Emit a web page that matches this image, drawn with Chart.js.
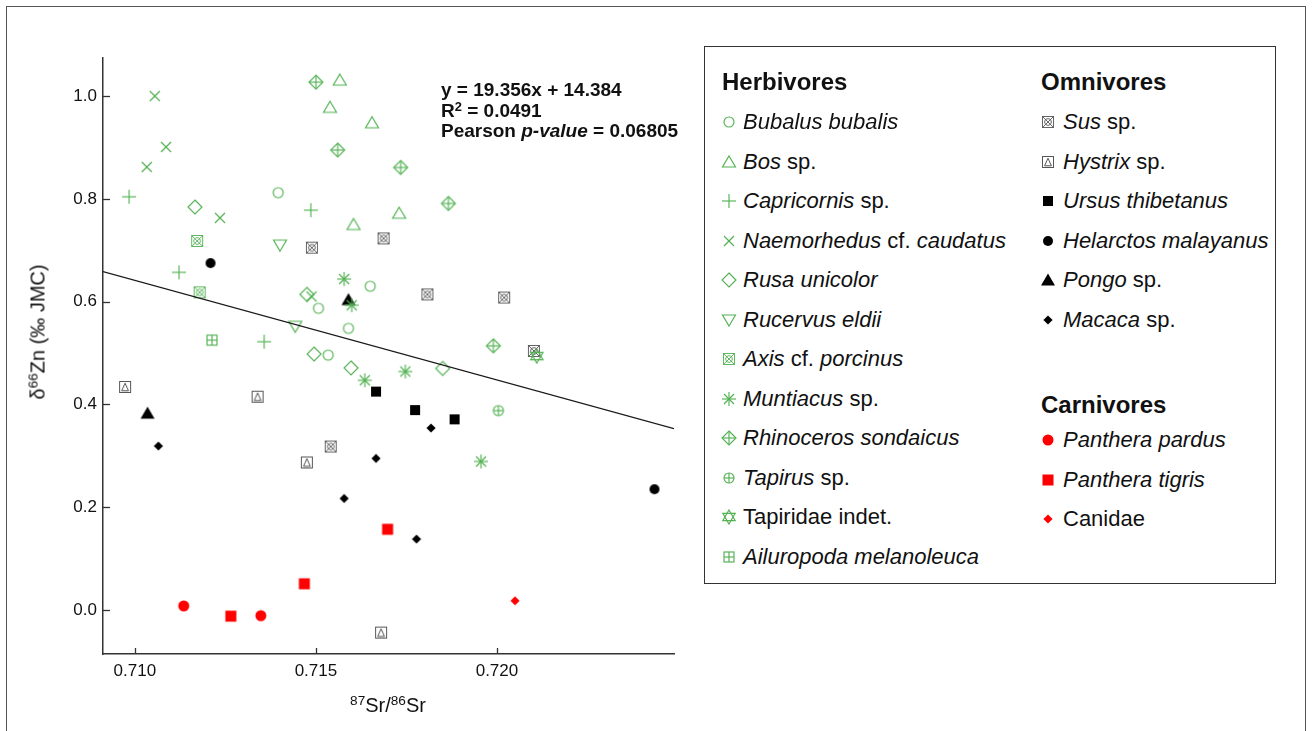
<!DOCTYPE html>
<html>
<head>
<meta charset="utf-8">
<script src="https://cdn.jsdelivr.net/npm/chart.js@4.4.1/dist/chart.umd.min.js"></script>
<style>
  html, body { margin: 0; padding: 0; background: #fff; }
  body { width: 1312px; height: 731px; position: relative; overflow: hidden;
         font-family: "Liberation Sans", Arial, Helvetica, sans-serif; color: #111; }
  #frame { position: absolute; left: 6px; top: 6px; width: 1300px; height: 760px;
           border: 1px solid #555; box-sizing: border-box; }
  #plot { position: absolute; left: 0; top: 0; }
  .ytitle { position: absolute; left: 38px; top: 332px; transform: translate(-50%, -50%) rotate(-90deg);
            font-size: 20px; white-space: nowrap; }
  .xtitle { position: absolute; left: 388px; top: 705px; transform: translate(-50%, -50%);
            font-size: 20px; white-space: nowrap; }
  sup { font-size: 0.68em; vertical-align: 0.5em; line-height: 0; }
  .eq { position: absolute; left: 441px; font-size: 19px; font-weight: bold; white-space: nowrap; line-height: 20px; }
  #legend { position: absolute; left: 704px; top: 46px; width: 572px; height: 538px;
            border: 1px solid #333; box-sizing: border-box; }
  .lh { position: absolute; font-size: 24px; font-weight: bold; line-height: 24px; white-space: nowrap; }
  .li { position: absolute; font-size: 22px; line-height: 24px; white-space: nowrap; height: 24px; }
  .li canvas { position: absolute; top: 3px; }
  .li span.t { position: absolute; top: 0; }
  i { font-style: italic; }
</style>
</head>
<body>
<div id="frame"></div>
<canvas id="plot" width="700" height="731"></canvas>
<div class="ytitle">δ<sup>66</sup>Zn (‰ JMC)</div>
<div class="xtitle"><sup>87</sup>Sr/<sup>86</sup>Sr</div>
<div class="eq" style="top:80px">y = 19.356x + 14.384</div>
<div class="eq" style="top:101px">R<sup>2</sup> = 0.0491</div>
<div class="eq" style="top:121px">Pearson <i>p-value</i> = 0.06805</div>
<div id="legend"></div>

<script>
// ---- measured values: 87Sr/86Sr (x) and δ66Zn ‰ JMC (y) ----
const bubalusX = [0.71396, 0.71650, 0.71507, 0.71590, 0.71534];
const bubalusY = [0.812, 0.630, 0.587, 0.548, 0.496];
const bosX = [0.71566, 0.71539, 0.71655, 0.71730, 0.71604];
const bosY = [1.031, 0.978, 0.948, 0.772, 0.750];
const capricornisX = [0.70984, 0.71486, 0.71122, 0.71357];
const capricornisY = [0.804, 0.778, 0.657, 0.522];
const naemorhedusX = [0.71055, 0.71086, 0.71033, 0.71235, 0.71488];
const naemorhedusY = [1.000, 0.901, 0.862, 0.763, 0.610];
const rusaX = [0.71166, 0.71475, 0.71495, 0.71597, 0.71850];
const rusaY = [0.784, 0.614, 0.498, 0.471, 0.470];
const rucervusX = [0.71401, 0.71443];
const rucervusY = [0.710, 0.552];
const axisX = [0.71172, 0.71179];
const axisY = [0.718, 0.618];
const muntiacusX = [0.71578, 0.71599, 0.71635, 0.71747, 0.71956];
const muntiacusY = [0.644, 0.593, 0.447, 0.464, 0.289];
const rhinoX = [0.71500, 0.71560, 0.71734, 0.71866, 0.71990];
const rhinoY = [1.027, 0.895, 0.861, 0.791, 0.514];
const tapirusX = [0.72004];
const tapirusY = [0.388];
const tapiridaeX = [0.72110];
const tapiridaeY = [0.494];
const ailuropodaX = [0.71213];
const ailuropodaY = [0.525];

const susX = [0.71489, 0.71687, 0.71808, 0.72020, 0.72102, 0.71541];
const susY = [0.705, 0.723, 0.614, 0.608, 0.504, 0.318];
const hystrixX = [0.70973, 0.71339, 0.71475, 0.71680];
const hystrixY = [0.434, 0.415, 0.287, -0.044];
const ursusX = [0.71666, 0.71774, 0.71883];
const ursusY = [0.425, 0.389, 0.371];
const helarctosX = [0.71209, 0.72435];
const helarctosY = [0.675, 0.235];
const pongoX = [0.71035, 0.71590];
const pongoY = [0.383, 0.604];
const macacaX = [0.71065, 0.71666, 0.71578, 0.71778, 0.71818];
const macacaY = [0.319, 0.295, 0.217, 0.138, 0.354];

const pardusX = [0.71135, 0.71348];
const pardusY = [0.008, -0.011];
const tigrisX = [0.71265, 0.71468, 0.71698];
const tigrisY = [-0.012, 0.051, 0.157];
const canidaeX = [0.72050];
const canidaeY = [0.018];

// axis ranges and ticks
const xMin = 0.70912, xMax = 0.72489, xStep = 0.005;
const yMin = -0.0856, yMax = 1.074, yStep = 0.2;

// fitted line (descending fit through all samples)
const regSlope = -19.356, regIntercept = 14.384;

const GREEN = '#52b152', GREY = '#555555', BLACK = '#000000', RED = '#ff0000';

// ---- marker glyphs drawn onto small canvases ----
function glyph(kind, color) {
  const S = 18, c = document.createElement('canvas');
  c.width = S; c.height = S;
  const g = c.getContext('2d');
  g.translate(S / 2, S / 2);
  g.strokeStyle = color; g.fillStyle = color; g.lineWidth = 1.15;
  const line = (a, b, cc, d) => { g.beginPath(); g.moveTo(a, b); g.lineTo(cc, d); g.stroke(); };
  const poly = (pts, fill) => {
    g.beginPath(); g.moveTo(pts[0][0], pts[0][1]);
    for (let i = 1; i < pts.length; i++) g.lineTo(pts[i][0], pts[i][1]);
    g.closePath(); fill ? g.fill() : g.stroke();
  };
  switch (kind) {
    case 'circle': g.beginPath(); g.arc(0, 0, 5, 0, Math.PI * 2); g.stroke(); break;
    case 'tri': poly([[0, -6], [6.5, 5], [-6.5, 5]]); break;
    case 'plus': line(-7, 0, 7, 0); line(0, -7, 0, 7); break;
    case 'cross': line(-5, -5, 5, 5); line(5, -5, -5, 5); break;
    case 'diamond': poly([[0, -7], [7, 0], [0, 7], [-7, 0]]); break;
    case 'triDown': poly([[0, 6], [6.5, -5], [-6.5, -5]]); break;
    case 'boxX':
      g.lineWidth = 0.9;
      g.strokeRect(-5.5, -5.5, 11, 11); line(-5.5, -5.5, 5.5, 5.5); line(5.5, -5.5, -5.5, 5.5);
      g.beginPath(); g.arc(0, 0, 3.4, 0, Math.PI * 2); g.stroke(); break;
    case 'aster':
      line(-7, 0, 7, 0); line(0, -7, 0, 7); line(-5, -5, 5, 5); line(5, -5, -5, 5);
      g.beginPath(); g.arc(0, 0, 1.3, 0, Math.PI * 2); g.fill(); break;
    case 'diamondPlus': poly([[0, -7], [7, 0], [0, 7], [-7, 0]]); line(-7, 0, 7, 0); line(0, -7, 0, 7); break;
    case 'circlePlus':
      g.beginPath(); g.arc(0, 0, 5, 0, Math.PI * 2); g.stroke(); line(-5, 0, 5, 0); line(0, -5, 0, 5); break;
    case 'star6': poly([[0, -7], [6.2, 3.6], [-6.2, 3.6]]); poly([[0, 7], [6.2, -3.6], [-6.2, -3.6]]); break;
    case 'boxPlus': g.strokeRect(-5, -5, 10, 10); line(-5, 0, 5, 0); line(0, -5, 0, 5); break;
    case 'boxTri': g.lineWidth = 1; g.strokeRect(-5.5, -5.5, 11, 11); poly([[0, -3.8], [3.4, 3.8], [-3.4, 3.8]]); break;
    case 'sq': g.fillRect(-5, -5, 10, 10); break;
    case 'dot': g.beginPath(); g.arc(0, 0, 5, 0, Math.PI * 2); g.fill(); break;
    case 'triFill': poly([[0, -6.5], [7, 5.5], [-7, 5.5]], true); break;
    case 'diaFill': poly([[0, -4.6], [4.6, 0], [0, 4.6], [-4.6, 0]], true); break;
    case 'sqBig': g.fillRect(-5.5, -5.5, 11, 11); break;
    case 'dotBig': g.beginPath(); g.arc(0, 0, 5.5, 0, Math.PI * 2); g.fill(); break;
  }
  return c;
}

const toPts = (xs, ys) => xs.map((x, i) => ({ x: x, y: ys[i] }));

// group, label html, marker kind, colour, x, y
const series = [
  ['H', '<i>Bubalus bubalis</i>', 'circle', GREEN, bubalusX, bubalusY],
  ['H', '<i>Bos</i> sp.', 'tri', GREEN, bosX, bosY],
  ['H', '<i>Capricornis</i> sp.', 'plus', GREEN, capricornisX, capricornisY],
  ['H', '<i>Naemorhedus</i> cf. <i>caudatus</i>', 'cross', GREEN, naemorhedusX, naemorhedusY],
  ['H', '<i>Rusa unicolor</i>', 'diamond', GREEN, rusaX, rusaY],
  ['H', '<i>Rucervus eldii</i>', 'triDown', GREEN, rucervusX, rucervusY],
  ['H', '<i>Axis</i> cf. <i>porcinus</i>', 'boxX', GREEN, axisX, axisY],
  ['H', '<i>Muntiacus</i> sp.', 'aster', GREEN, muntiacusX, muntiacusY],
  ['H', '<i>Rhinoceros sondaicus</i>', 'diamondPlus', GREEN, rhinoX, rhinoY],
  ['H', '<i>Tapirus</i> sp.', 'circlePlus', GREEN, tapirusX, tapirusY],
  ['H', 'Tapiridae indet.', 'star6', GREEN, tapiridaeX, tapiridaeY],
  ['H', '<i>Ailuropoda melanoleuca</i>', 'boxPlus', GREEN, ailuropodaX, ailuropodaY],
  ['O', '<i>Sus</i> sp.', 'boxX', GREY, susX, susY],
  ['O', '<i>Hystrix</i> sp.', 'boxTri', GREY, hystrixX, hystrixY],
  ['O', '<i>Ursus thibetanus</i>', 'sq', BLACK, ursusX, ursusY],
  ['O', '<i>Helarctos malayanus</i>', 'dot', BLACK, helarctosX, helarctosY],
  ['O', '<i>Pongo</i> sp.', 'triFill', BLACK, pongoX, pongoY],
  ['O', '<i>Macaca</i> sp.', 'diaFill', BLACK, macacaX, macacaY],
  ['C', '<i>Panthera pardus</i>', 'dotBig', RED, pardusX, pardusY],
  ['C', '<i>Panthera tigris</i>', 'sqBig', RED, tigrisX, tigrisY],
  ['C', 'Canidae', 'diaFill', RED, canidaeX, canidaeY],
];

const datasets = series.map(s => ({
  type: 'scatter',
  label: s[1].replace(/<[^>]+>/g, ''),
  data: toPts(s[4], s[5]),
  pointStyle: glyph(s[2], s[3]),
  pointRadius: 7,
  order: 1
}));

datasets.push({
  type: 'line',
  label: 'fit',
  data: [{ x: xMin, y: regSlope * xMin + regIntercept }, { x: xMax, y: regSlope * xMax + regIntercept }],
  borderColor: '#1a1a1a', borderWidth: 1.3, pointRadius: 0, fill: false, order: 0
});

// ticks pointing into the plot area
const inwardTicks = {
  id: 'inwardTicks',
  afterDraw(chart) {
    const { ctx, scales: { x, y } } = chart;
    ctx.save();
    ctx.strokeStyle = '#333'; ctx.lineWidth = 1.3;
    x.ticks.forEach(t => {
      const px = Math.round(x.getPixelForValue(t.value)) + 0.5;
      ctx.beginPath(); ctx.moveTo(px, x.top); ctx.lineTo(px, x.top - 6); ctx.stroke();
    });
    y.ticks.forEach(t => {
      const py = Math.round(y.getPixelForValue(t.value)) + 0.5;
      ctx.beginPath(); ctx.moveTo(y.right, py); ctx.lineTo(y.right + 7, py); ctx.stroke();
    });
    ctx.restore();
  }
};

const tickFont = { family: '"Liberation Sans", Arial, sans-serif', size: 17 };

new Chart(document.getElementById('plot'), {
  data: { datasets },
  options: {
    responsive: false, animation: false, devicePixelRatio: 1, events: [],
    layout: { padding: { top: 58, right: 26, left: 0, bottom: 0 } },
    plugins: { legend: { display: false }, tooltip: { enabled: false } },
    scales: {
      x: {
        type: 'linear', min: xMin, max: xMax,
        grid: { display: false, drawTicks: false, tickLength: 0 },
        border: { display: true, color: '#333', width: 1.5 },
        ticks: { stepSize: xStep, includeBounds: false, padding: 7, color: '#111', font: tickFont,
                 maxRotation: 0, callback: v => v.toFixed(3) },
        afterFit: s => { s.height = 77; }
      },
      y: {
        type: 'linear', min: yMin, max: yMax,
        grid: { display: false, drawTicks: false, tickLength: 0 },
        border: { display: true, color: '#333', width: 1.5 },
        ticks: { stepSize: yStep, includeBounds: false, padding: 6, color: '#111', font: tickFont,
                 callback: v => v.toFixed(1) },
        afterFit: s => { s.width = 103; }
      }
    }
  },
  plugins: [inwardTicks]
});

// ---- legend box ----
const legend = document.getElementById('legend');
const L0 = 704, T0 = 46;
function header(text, x, y) {
  const d = document.createElement('div');
  d.className = 'lh'; d.textContent = text;
  d.style.left = (x - L0 - 1) + 'px'; d.style.top = (y - T0 - 1 - 12) + 'px';
  legend.appendChild(d);
}
function item(s, mx, tx, y) {
  const d = document.createElement('div');
  d.className = 'li';
  d.style.left = (mx - L0 - 1 - 9) + 'px'; d.style.top = (y - T0 - 1 - 12) + 'px';
  const cv = glyph(s[2], s[3]);
  cv.style.left = '0px';
  d.appendChild(cv);
  const t = document.createElement('span');
  t.className = 't'; t.innerHTML = s[1];
  t.style.left = (tx - mx + 9) + 'px';
  d.appendChild(t);
  legend.appendChild(d);
}
header('Herbivores', 722, 82);
series.filter(s => s[0] === 'H').forEach((s, i) => item(s, 729, 743, 122 + i * 39.5));
header('Omnivores', 1041, 82);
series.filter(s => s[0] === 'O').forEach((s, i) => item(s, 1048, 1063, 122 + i * 39.5));
header('Carnivores', 1041, 405);
series.filter(s => s[0] === 'C').forEach((s, i) => item(s, 1048, 1063, 440 + i * 39.5));
</script>
</body>
</html>
